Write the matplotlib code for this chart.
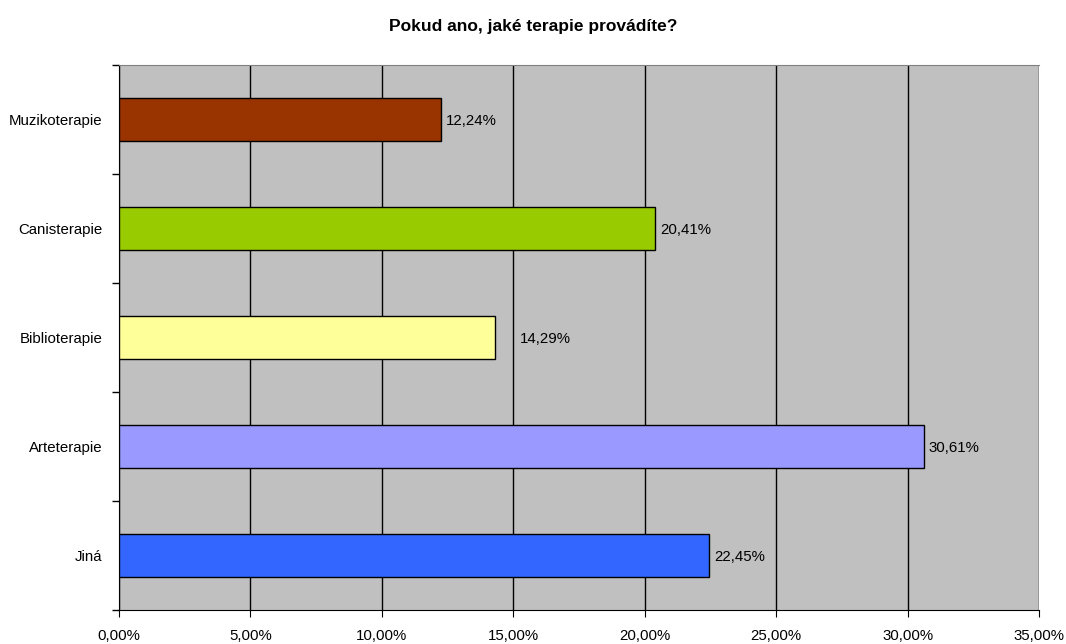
import matplotlib
matplotlib.use("Agg")
import matplotlib.pyplot as plt
from matplotlib.ticker import MultipleLocator, FuncFormatter

plt.rcParams['font.family'] = ['Liberation Sans', 'DejaVu Sans']

categories = ["Jiná", "Arteterapie", "Biblioterapie", "Canisterapie", "Muzikoterapie"]
values = [22.45, 30.61, 14.29, 20.41, 12.24]
colors = ["#3366FF", "#9999FF", "#FFFF99", "#99CC00", "#993300"]
label_offsets = [3.5, 3.5, 18.5, 3.5, 3.5]
title = "Pokud ano, jaké terapie provádíte?"

fs = 10.8
fig = plt.figure(figsize=(10.66, 6.44), dpi=100)
ax = fig.add_axes([119/1066, 1 - 610/644, (1039-119)/1066, (610-65)/644])
ax.set_facecolor("#C0C0C0")

ypos = list(range(len(categories)))
ax.barh(ypos, values, height=0.4, color=colors, edgecolor="black", linewidth=1, zorder=3)

for y, v, off in zip(ypos, values, label_offsets):
    ax.annotate(f"{v:.2f}%".replace(".", ","), xy=(v, y), xytext=(off, -1),
                textcoords="offset points", va="center", ha="left", fontsize=fs, zorder=4)

ax.set_xlim(0, 35)
ax.set_ylim(-0.5, len(categories) - 0.5)
ax.xaxis.set_major_locator(MultipleLocator(5))
ax.xaxis.set_major_formatter(FuncFormatter(lambda x, p: f"{x:.2f}%".replace(".", ",")))
ax.grid(axis="x", color="black", linewidth=1, zorder=1)

ax.set_yticks(ypos)
ax.set_yticklabels(categories)
ax.set_yticks([i - 0.5 for i in range(len(categories) + 1)], minor=True)
ax.tick_params(axis="y", which="major", length=0, pad=12, labelsize=fs)
ax.tick_params(axis="y", which="minor", length=5, direction="out", width=1)
ax.tick_params(axis="x", length=5, direction="out", labelsize=fs, pad=9)

ax.spines["top"].set_color("#808080")
ax.spines["right"].set_visible(False)
ax.spines["left"].set_color("black")
ax.spines["bottom"].set_color("black")

fig.text(0.5, 1 - 27/644, title, ha="center", va="center", fontsize=12.5, fontweight="bold")

fig.savefig("out.png", dpi=100)
